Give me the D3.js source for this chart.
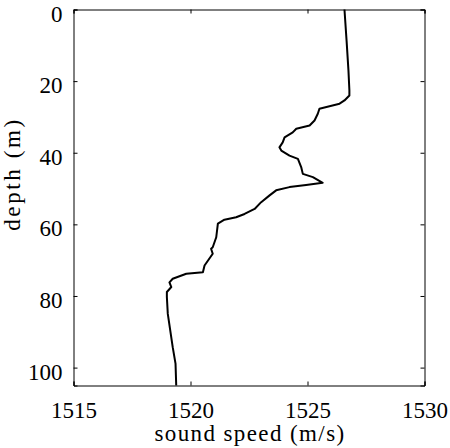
<!DOCTYPE html>
<html>
<head>
<meta charset="utf-8">
<script src="https://cdn.jsdelivr.net/npm/d3@7"></script>
<style>
  html, body { margin: 0; padding: 0; background: #fff; }
  svg { display: block; }
  text { font-family: "Liberation Serif", "Times New Roman", serif; fill: #000; }
</style>
</head>
<body>
<svg id="chart" width="450" height="448"></svg>
<script>
// ---- data ----
const depth = [0, 8.7, 17.0, 22.6, 24.0, 25.4, 26.3, 27.7, 29.1, 31.0, 32.4, 33.3, 34.3, 35.7, 37.1, 38.5, 39.4, 40.8, 41.7, 44.0, 45.9, 46.8, 48.4, 49.0, 49.6, 50.5, 51.9, 53.8, 55.7, 57.1, 58.0, 58.7, 59.8, 63.6, 66.4, 66.8, 68.2, 71.5, 73.4, 73.8, 75.2, 76.2, 77.5, 78.9, 80.3, 85.0, 94.3, 98.9, 105];
const soundSpeed = [1526.58, 1526.67, 1526.75, 1526.79, 1526.79, 1526.58, 1526.37, 1525.51, 1525.44, 1525.30, 1525.09, 1524.52, 1524.37, 1524.02, 1523.94, 1523.80, 1523.88, 1524.23, 1524.59, 1524.73, 1524.80, 1525.23, 1525.65, 1524.94, 1524.23, 1523.66, 1523.38, 1523.02, 1522.74, 1522.31, 1521.95, 1521.45, 1521.17, 1521.10, 1520.95, 1520.88, 1520.95, 1520.60, 1520.53, 1519.82, 1519.24, 1519.10, 1519.18, 1518.99, 1518.99, 1519.03, 1519.24, 1519.36, 1519.39];
const xTicks = [1515, 1520, 1525, 1530];
const yTicks = [0, 20, 40, 60, 80, 100];
const xDomain = [1515, 1530];
const yDomain = [0, 105];
const xLabel = "sound speed (m/s)";
const yLabel = "depth (m)";

// ---- layout ----
const mL = 73.5, mR = 424.5, mT = 9.5, mB = 385.5;
const svg = d3.select("#chart");
const x = d3.scaleLinear().domain(xDomain).range([mL, mR]);
const y = d3.scaleLinear().domain(yDomain).range([mT, mB]);

// data line
const line = d3.line().x((d, i) => x(soundSpeed[i])).y((d, i) => y(depth[i]));
svg.append("path")
  .datum(depth)
  .attr("d", line)
  .attr("fill", "none")
  .attr("stroke", "#000")
  .attr("stroke-width", 2)
  .attr("stroke-linejoin", "round");

// axes (box with inward ticks)
const tl = 4;
const gBottom = svg.append("g").attr("transform", `translate(0,${mB})`)
  .call(d3.axisBottom(x).tickValues(xTicks).tickSize(-tl).tickPadding(16).tickFormat(d3.format("d")));
const gTop = svg.append("g").attr("transform", `translate(0,${mT})`)
  .call(d3.axisTop(x).tickValues(xTicks).tickSize(-tl).tickFormat(""));
const gLeft = svg.append("g").attr("transform", `translate(${mL},0)`)
  .call(d3.axisLeft(y).tickValues(yTicks).tickSize(-tl).tickPadding(11).tickFormat(d3.format("d")));
const gRight = svg.append("g").attr("transform", `translate(${mR},0)`)
  .call(d3.axisRight(y).tickValues(yTicks).tickSize(-tl).tickFormat(""));

[gBottom, gTop, gLeft, gRight].forEach(g => {
  g.select(".domain").attr("stroke", "#000").attr("stroke-width", 1);
  g.selectAll(".tick line").attr("stroke", "#000").attr("stroke-width", 1);
  g.selectAll("text").attr("font-family", "Liberation Serif, serif").attr("font-size", 23).attr("fill", "#000");
});
gLeft.selectAll("text").attr("dy", "0.5em");
gBottom.selectAll("text").attr("dy", "0.71em");

// axis labels
svg.append("text")
  .attr("x", (mL + mR) / 2 + 1)
  .attr("y", 441)
  .attr("text-anchor", "middle")
  .attr("font-size", 23)
  .attr("letter-spacing", 1.4)
  .text(xLabel);

svg.append("text")
  .attr("transform", `translate(20,174) rotate(-90)`)
  .attr("text-anchor", "middle")
  .attr("font-size", 23)
  .attr("letter-spacing", 2.6)
  .text(yLabel);
</script>
</body>
</html>
